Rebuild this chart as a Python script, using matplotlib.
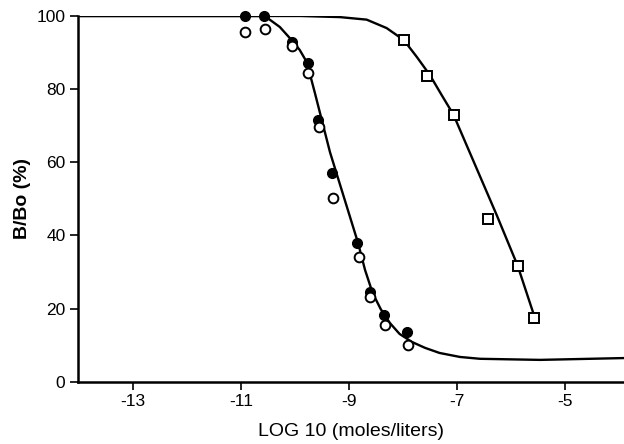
import matplotlib
matplotlib.use("Agg")
import matplotlib.pyplot as plt

plt.rcParams["font.family"] = ["Liberation Sans", "DejaVu Sans"]
plt.rcParams["axes.unicode_minus"] = False  # short hyphen like the original

# data points (log10 concentration, B/Bo %)
filled_x = [-10.93, -10.57, -10.06, -9.76, -9.57, -9.31, -8.85, -8.61, -8.35, -7.93]
filled_y = [100.0, 100.0, 92.9, 87.2, 71.6, 57.1, 38.0, 24.6, 18.3, 13.7]

open_x = [-10.93, -10.55, -10.06, -9.76, -9.56, -9.29, -8.82, -8.60, -8.33, -7.91]
open_y = [95.6, 96.4, 91.8, 84.4, 69.7, 50.3, 34.2, 23.2, 15.6, 10.1]

square_x = [-7.98, -7.56, -7.06, -6.43, -5.87, -5.57]
square_y = [93.4, 83.6, 73.0, 44.5, 31.7, 17.5]

# fitted curves
curve1_x = [-14.0, -10.56, -10.28, -10.06, -9.91, -9.78, -9.63, -9.35, -9.09,
            -8.83, -8.70, -8.56, -8.41, -8.24, -8.06, -7.83, -7.59, -7.32,
            -6.94, -6.57, -5.46, -3.9]
curve1_y = [100.0, 100.0, 97.0, 93.4, 90.7, 87.4, 79.0, 62.8, 50.4,
            38.0, 30.6, 24.3, 19.9, 16.1, 13.1, 10.9, 9.3, 7.9,
            6.8, 6.3, 6.0, 6.5]

curve2_x = [-14.0, -9.9, -9.17, -8.67, -8.30, -7.98, -7.74, -7.50, -7.28, -7.06,
            -6.26, -5.87, -5.53]
curve2_y = [100.0, 100.0, 99.7, 99.0, 96.7, 93.4, 88.8, 83.9, 78.4, 73.0,
            45.6, 31.7, 16.5]

x_ticks = [-13, -11, -9, -7, -5]
y_ticks = [0, 20, 40, 60, 80, 100]

fig = plt.figure(figsize=(6.24, 4.44), dpi=100)
ax = fig.add_axes([0.125, 0.140, 0.875, 0.824])

ax.plot(curve1_x, curve1_y, color="black", lw=1.7, zorder=2, solid_joinstyle="round")
ax.plot(curve2_x, curve2_y, color="black", lw=1.7, zorder=2, solid_joinstyle="round")
ax.plot(filled_x, filled_y, "o", color="black", ms=7, zorder=3, clip_on=False)
ax.plot(open_x, open_y, "o", mfc="white", mec="black", mew=1.4, ms=7, zorder=4,
        clip_on=False)
ax.plot(square_x, square_y, "s", mfc="white", mec="black", mew=1.4, ms=7.5, zorder=4,
        clip_on=False)

ax.set_xlim(-14.02, -3.9)
ax.set_ylim(0, 100)
ax.set_xticks(x_ticks)
ax.set_yticks(y_ticks)

for side in ("top", "right"):
    ax.spines[side].set_visible(False)
for side in ("left", "bottom"):
    ax.spines[side].set_linewidth(1.8)

ax.tick_params(direction="out", length=6, width=1.2, labelsize=12.5, pad=3)
ax.set_xlabel("LOG 10 (moles/liters)", fontsize=14, labelpad=10)
ax.set_ylabel("B/Bo (%)", fontsize=14, fontweight="bold", labelpad=4)

fig.savefig("out.png", dpi=100)
